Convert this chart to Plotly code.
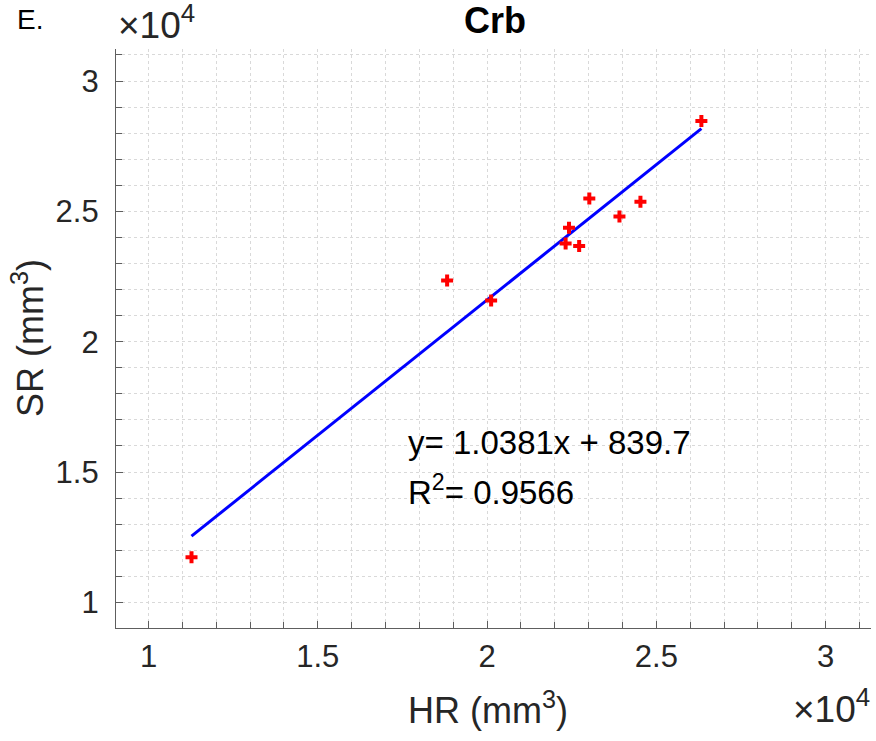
import plotly.graph_objects as go

# Data (volumes in mm^3)
HR = [11270, 18820, 20120, 22320, 22420, 22720, 23020, 23910, 24530, 26330]
SR = [11730, 22350, 21580, 23770, 24370, 23670, 25490, 24800, 25370, 28470]
slope = 1.0381
intercept = 839.7
r2 = 0.9566

tick_vals = [10000, 15000, 20000, 25000, 30000]
tick_text = ["1", "1.5", "2", "2.5", "3"]

fit_x = [min(HR), max(HR)]
fit_y = [slope * v + intercept for v in fit_x]

W, H = 876, 741
L, R, T, B = 116, 871, 49, 628
FONT = "Liberation Sans, Arial, Helvetica, sans-serif"


def px(x):
    # screen x -> paper x
    return (x - L) / (R - L)


def py(y):
    # screen y -> paper y
    return (B - y) / (B - T)


fig = go.Figure()
fig.add_trace(go.Scatter(x=fit_x, y=fit_y, mode="lines",
                         line=dict(color="#0000ff", width=3), showlegend=False))
fig.add_trace(go.Scatter(x=HR, y=SR, mode="markers",
                         marker=dict(symbol="cross", size=10, color="#ff0000",
                                     line=dict(width=0)), showlegend=False))

axis_common = dict(
    tickvals=tick_vals, ticktext=tick_text,
    ticks="inside", ticklen=7, tickwidth=1, tickcolor="#5e5e5e",
    showline=True, linecolor="#5e5e5e", linewidth=1.2,
    showgrid=True, gridcolor="#d9d9d9", griddash="dot", gridwidth=1,
    zeroline=False,
    tickfont=dict(family=FONT, size=31, color="#262626"),
    minor=dict(dtick=1000, tick0=0, ticks="inside", ticklen=6, tickcolor="#5e5e5e",
               showgrid=True, gridcolor="#d9d9d9", griddash="dot", gridwidth=1),
    mirror=False,
)

fig.update_xaxes(range=[9040, 31340], ticklabelstandoff=1, **axis_common)
fig.update_yaxes(range=[9015, 31230], ticklabelstandoff=10, **axis_common)


def add_text(text, x, y, size, xanchor="center", color="#262626", angle=0):
    fig.add_annotation(text=text, x=px(x), y=py(y), xref="paper", yref="paper",
                       xanchor=xanchor, yanchor="middle", showarrow=False,
                       textangle=angle,
                       font=dict(family=FONT, size=size, color=color))


add_text("<b>Crb</b>", 495, 21, 36, color="#000000")
add_text("E.", 15, 20, 28, xanchor="left", color="#000000")
add_text("×10<sup>4</sup>", 116, 23, 37, xanchor="left")
add_text("×10<sup>4</sup>", 872, 706, 37, xanchor="right")
add_text("HR (mm<sup>3</sup>)", 488, 708, 36)
add_text("SR (mm<sup>3</sup>)", 28, 338, 36, angle=-90)

fig.add_annotation(text=f"y= {slope}x + {intercept}", x=17600, y=16150, xref="x", yref="y",
                   xanchor="left", yanchor="middle", showarrow=False,
                   font=dict(family=FONT, size=33, color="#000000"))
fig.add_annotation(text=f"R<sup>2</sup>= {r2}", x=17600, y=14300, xref="x", yref="y",
                   xanchor="left", yanchor="middle", showarrow=False,
                   font=dict(family=FONT, size=33, color="#000000"))

fig.update_layout(
    width=W, height=H,
    margin=dict(l=L, r=W - R, t=T, b=H - B, autoexpand=False),
    paper_bgcolor="#ffffff", plot_bgcolor="#ffffff",
    font=dict(family=FONT),
)

fig.write_html("out.html", config={"displayModeBar": False},
               post_script="document.body.style.margin='0';document.body.style.overflow='hidden';")
